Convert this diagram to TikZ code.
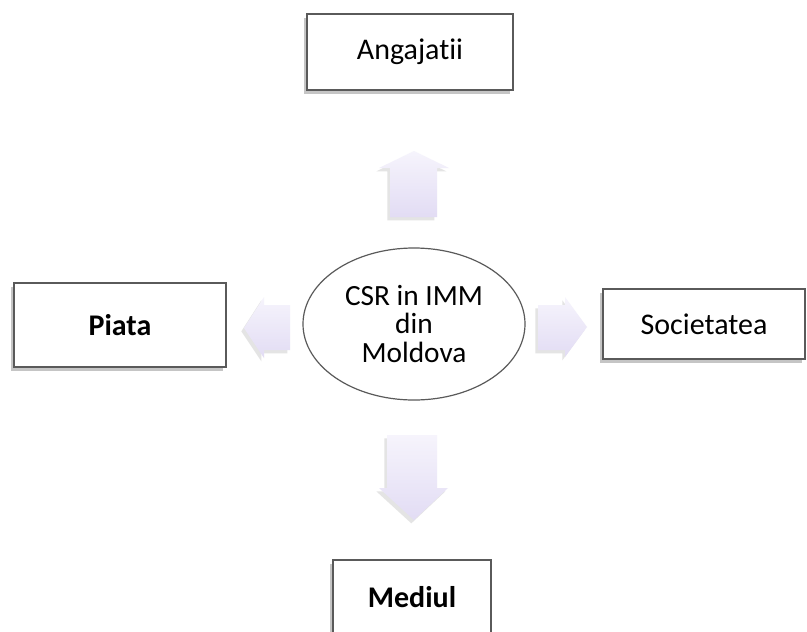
\documentclass[tikz,border=0pt]{standalone}
\usepackage{fontspec}
\setmainfont{Carlito}[Ligatures=NoCommon]
\usetikzlibrary{shadows,shapes.geometric}
\definecolor{boxline}{HTML}{5A5A5A}
\definecolor{lav}{HTML}{E2DCF4}
\definecolor{lavtop}{HTML}{F6F4FC}
\tikzset{
  labelbox/.style={draw=boxline, line width=1.1pt, fill=white, rectangle,
    inner sep=0pt, font=\fontsize{22.5}{26}\selectfont,
    drop shadow={shadow xshift=-2.5pt, shadow yshift=-3pt, fill=black!45, opacity=0.5}},
  blockarrow/.style={draw=none, top color=lavtop, bottom color=lav,
    drop shadow={shadow xshift=-2pt, shadow yshift=-2.5pt, fill=black!30, opacity=0.35}},
  hub/.style={ellipse, draw=boxline, line width=0.9pt, fill=white, inner sep=0pt,
    minimum width=166.5pt, minimum height=114pt, align=center,
    font=\fontsize{22}{21.4}\selectfont}
}
\begin{document}
\begin{tikzpicture}[x=0.75pt, y=-0.75pt]
\useasboundingbox[fill=white] (0,0) rectangle (807,632);
% boxes
\node[labelbox, minimum width=154.5pt, minimum height=57pt] (ang) at (410,52) {Angajatii};
\node[labelbox, minimum width=159pt, minimum height=63pt] (pia) at (120,325) {\bfseries Piata};
\node[labelbox, minimum width=151.5pt, minimum height=52.5pt] (soc) at (704,324) {Societatea};
\node[labelbox, minimum width=118.5pt, minimum height=55.5pt] (med) at (412,597) {\bfseries Mediul};
% hub
\node[hub] (csr) at (414,324) {CSR in IMM\\din\\Moldova};
% block arrows
\path[blockarrow] (390,217) -- (390,168) -- (379,168) -- (414,151) -- (449,168) -- (437,168) -- (437,217) -- cycle;
\path[blockarrow] (387,435) -- (437,435) -- (437,488) -- (448,488) -- (414,520) -- (379,488) -- (387,488) -- cycle;
\path[blockarrow] (290,305) -- (264,305) -- (264,297) -- (244,328) -- (264,358) -- (264,350) -- (290,350) -- cycle;
\path[blockarrow] (538,305) -- (565,305) -- (565,297) -- (587,327) -- (565,357) -- (565,350) -- (538,350) -- cycle;
\end{tikzpicture}
\end{document}
